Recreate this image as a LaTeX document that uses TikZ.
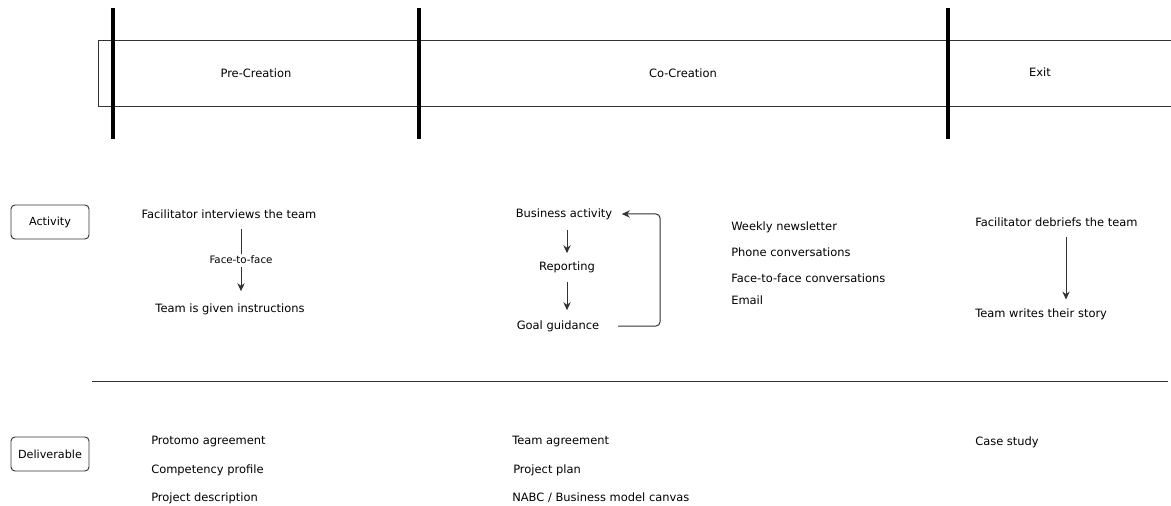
\documentclass[tikz,border=0pt]{standalone}
\usepackage{fontspec}
\setmainfont{DejaVu Sans}
\usetikzlibrary{arrows.meta}
\begin{document}
\begin{tikzpicture}[x=0.75pt,y=-0.75pt,
  txt/.style={inner sep=0pt,font=\fontsize{8.6}{10}\selectfont},
  lst/.style={txt,anchor=west},
  small/.style={inner sep=0pt,font=\fontsize{7.7}{9}\selectfont},
  rowbox/.style={draw=black!80,line width=0.7pt,rounded corners=3pt,minimum width=58.5pt,minimum height=25.5pt,inner sep=0pt,font=\fontsize{8.4}{10}\selectfont},
  bar/.style={line width=2.6pt,black},
  thin/.style={draw=black!80,line width=0.75pt},
  arr/.style={thin,-{Stealth[length=6pt,width=5.5pt]}}]
\useasboundingbox (0,0) rectangle (1171,506);

% phase band and its dividers
\draw[thin] (1190,41) -- (98,41) -- (98,107) -- (1190,107);
\coordinate (b1t) at (113,8);   \coordinate (b1b) at (113,139);
\coordinate (b2t) at (419,8);   \coordinate (b2b) at (419,139);
\coordinate (b3t) at (948,8);   \coordinate (b3b) at (948,139);
\draw[bar] (b1t) -- (b1b);
\draw[bar] (b2t) -- (b2b);
\draw[bar] (b3t) -- (b3b);
\node[txt] (pre) at (256,73) {Pre-Creation};
\node[txt] (co) at (683,73) {Co-Creation};
\node[txt] (exit) at (1040,72) {Exit};

% row headers
\node[rowbox] (activity) at (50,222) {Activity};
\node[rowbox] (deliverable) at (50,454) {Deliverable};

% separator between rows
\coordinate (sepl) at (92,381);
\coordinate (sepr) at (1168,381);
\draw[thin] (sepl) -- (sepr);

% Pre-Creation activity
\node[txt] (interview) at (229,214) {Facilitator interviews the team};
\node[small] (f2f) at (241,260) {Face-to-face};
\node[txt] (instr) at (230,309) {Team is given instructions};
\draw[thin] ([yshift=-7.5pt]interview.south -| f2f.north) -- ([yshift=1.5pt]f2f.north);
\draw[arr] ([yshift=-2pt]f2f.south) -- ([yshift=9pt]instr.north -| f2f.south);

% Co-Creation activity cycle
\node[txt] (biz) at (564,214) {Business activity};
\node[txt] (rep) at (567,267) {Reporting};
\node[txt] (goal) at (558,326) {Goal guidance};
\coordinate (loop) at (660,214);
\draw[arr] ([yshift=-7.5pt]biz.south -| rep.north) -- ([yshift=6pt]rep.north);
\draw[arr] ([yshift=-7pt]rep.south) -- ([yshift=7.5pt]goal.north -| rep.south);
\draw[arr,rounded corners=3pt] ([xshift=14pt]goal.east) -| (loop) -- ([xshift=7pt]biz.east);

% communication channels
\node[lst] (news) at (731,227) {Weekly newsletter};
\node[lst] (phone) at (731,252) {Phone conversations};
\node[lst] (ftfc) at (731,278) {Face-to-face conversations};
\node[lst] (email) at (731,300) {Email};

% Exit activity
\node[lst] (debrief) at (975,222) {Facilitator debriefs the team};
\node[lst] (story) at (975,314) {Team writes their story};
\coordinate (exitx) at (1066,0);
\draw[arr] ([yshift=-8pt]debrief.south -| exitx) -- ([yshift=6.5pt]story.north -| exitx);

% deliverables
\node[lst] (protomo) at (151,442) {Protomo agreement};
\node[lst] (comp) at (151,470) {Competency profile};
\node[lst] (desc) at (151,498) {Project description};
\node[lst] (teamagr) at (512,442) {Team agreement};
\node[lst] (plan) at (513,470) {Project plan};
\node[lst] (nabc) at (512,498) {NABC / Business model canvas};
\node[lst] (case) at (975,442) {Case study};
\end{tikzpicture}
\end{document}
